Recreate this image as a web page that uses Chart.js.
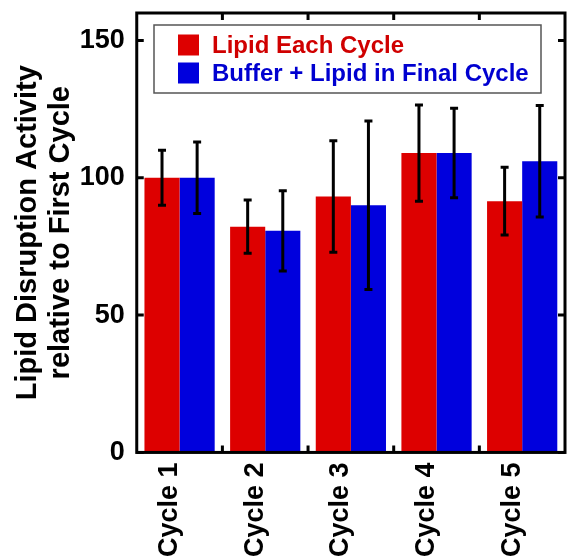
<!DOCTYPE html>
<html>
<head>
<meta charset="utf-8">
<script src="https://cdn.jsdelivr.net/npm/chart.js@4/dist/chart.umd.min.js"></script>
<style>
html,body{margin:0;padding:0;background:#fff;}
canvas{display:block;}
</style>
</head>
<body>
<canvas id="c" width="572" height="558"></canvas>
<script>
const categories = ['Cycle 1', 'Cycle 2', 'Cycle 3', 'Cycle 4', 'Cycle 5'];
const lipidEach = [100, 82.2, 93.2, 109, 91.5];
const lipidEachErr = [10, 9.7, 20.3, 17.5, 12.3];
const bufferFinal = [100, 80.7, 90, 109, 106];
const bufferFinalErr = [13, 14.6, 30.7, 16.3, 20.3];
const yTicks = [0, 50, 100, 150];
const seriesLabels = ['Lipid Each Cycle', 'Buffer + Lipid in Final Cycle'];

const FONT = "'Liberation Sans', Arial, Helvetica, sans-serif";

const errorBars = {
  id: 'errorBars',
  afterDatasetsDraw(chart) {
    const ctx = chart.ctx;
    const ys = chart.scales.y;
    ctx.save();
    ctx.strokeStyle = '#000';
    ctx.lineWidth = 3;
    chart.data.datasets.forEach((ds, i) => {
      const meta = chart.getDatasetMeta(i);
      meta.data.forEach((bar, j) => {
        const v = ds.data[j], e = ds.errors[j];
        const x = bar.x;
        const yt = ys.getPixelForValue(v + e);
        const yb = ys.getPixelForValue(v - e);
        ctx.beginPath();
        ctx.moveTo(x, yt); ctx.lineTo(x, yb);
        ctx.moveTo(x - 4, yt); ctx.lineTo(x + 4, yt);
        ctx.moveTo(x - 4, yb); ctx.lineTo(x + 4, yb);
        ctx.stroke();
      });
    });
    ctx.restore();
  }
};

const frame = {
  id: 'frame',
  afterDraw(chart) {
    const ctx = chart.ctx;
    const a = chart.chartArea;
    const xs = chart.scales.x, ys = chart.scales.y;
    ctx.save();
    ctx.strokeStyle = '#000';
    ctx.lineWidth = 3;
    ctx.strokeRect(a.left, a.top, a.right - a.left, a.bottom - a.top);
    const L = 7;
    ctx.beginPath();
    ys.ticks.forEach(t => {
      const y = ys.getPixelForValue(t.value);
      ctx.moveTo(a.left, y); ctx.lineTo(a.left + L, y);
      ctx.moveTo(a.right, y); ctx.lineTo(a.right - L, y);
    });
    for (let i = 0; i < categories.length - 1; i++) {
      const x = (xs.getPixelForTick(i) + xs.getPixelForTick(i + 1)) / 2;
      ctx.moveTo(x, a.top); ctx.lineTo(x, a.top + L);
      ctx.moveTo(x, a.bottom); ctx.lineTo(x, a.bottom - L);
    }
    ctx.stroke();

    // legend
    const bx = 154, by = 25, bw = 387, bh = 68;
    ctx.lineWidth = 1.5;
    ctx.strokeStyle = '#555';
    ctx.strokeRect(bx, by, bw, bh);
    const textColors = ['#d00000', '#0000d0'];
    chart.data.datasets.forEach((ds, i) => {
      const cy = 45 + i * 28;
      ctx.fillStyle = ds.backgroundColor;
      ctx.fillRect(178, cy - 10.5, 21, 21);
      ctx.fillStyle = textColors[i];
      ctx.font = "bold 24px " + FONT;
      ctx.textBaseline = 'middle';
      ctx.textAlign = 'left';
      ctx.fillText(ds.label, 212, cy + 1);
    });
    ctx.restore();
  }
};

new Chart(document.getElementById('c'), {
  type: 'bar',
  data: {
    labels: categories,
    datasets: [
      { label: seriesLabels[0], data: lipidEach, errors: lipidEachErr, backgroundColor: '#dd0000' },
      { label: seriesLabels[1], data: bufferFinal, errors: bufferFinalErr, backgroundColor: '#0000dd' }
    ]
  },
  options: {
    responsive: false,
    animation: false,
    devicePixelRatio: 1,
    layout: { padding: { left: 11, right: 7, top: 13, bottom: -9 } },
    datasets: { bar: { categoryPercentage: 0.82, barPercentage: 1.0, borderWidth: 0 } },
    plugins: { legend: { display: false }, tooltip: { enabled: false } },
    scales: {
      x: {
        grid: { display: false, drawTicks: false },
        border: { display: false },
        ticks: {
          minRotation: 90, maxRotation: 90, padding: 10, labelOffset: -10,
          color: '#000', font: { family: FONT, size: 27, weight: 'bold' }
        }
      },
      y: {
        min: 0, max: 160,
        afterBuildTicks(scale) { scale.ticks = yTicks.map(v => ({ value: v })); },
        afterFit(scale) { scale.paddingTop = 0; scale.paddingBottom = 0; },
        grid: { display: false, drawTicks: false },
        border: { display: false },
        ticks: {
          padding: 12, color: '#000',
          font: { family: FONT, size: 27, weight: 'bold' }
        },
        title: {
          display: true,
          text: ['Lipid Disruption Activity', 'relative to First Cycle'],
          color: '#000',
          padding: { top: 0, bottom: -10 },
          font: { family: FONT, size: 29, weight: 'bold', lineHeight: 1.15 }
        }
      }
    }
  },
  plugins: [errorBars, frame]
});
</script>
</body>
</html>
